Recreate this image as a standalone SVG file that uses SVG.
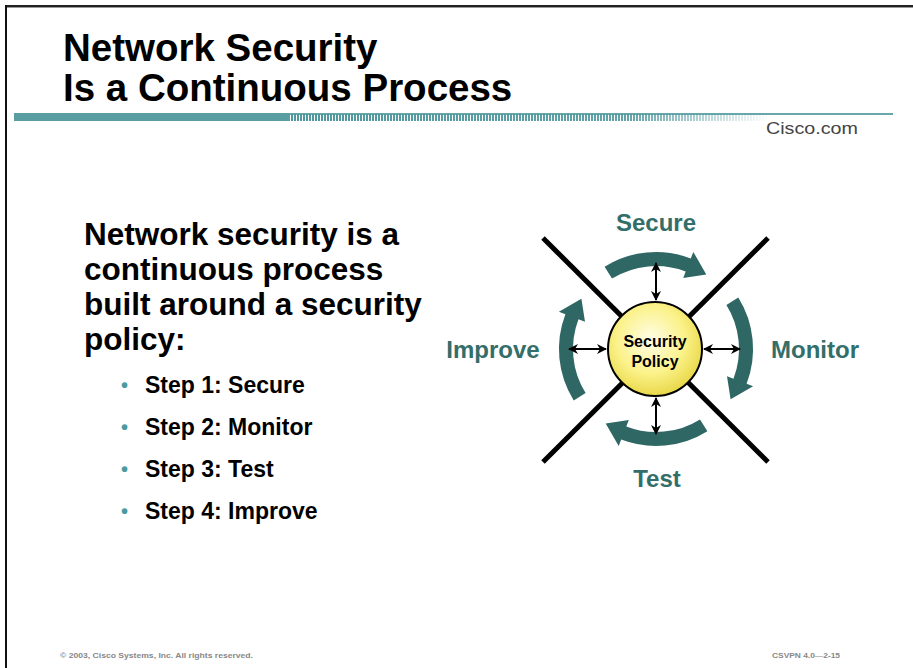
<svg xmlns="http://www.w3.org/2000/svg" width="913" height="668" viewBox="0 0 913 668">
<style>
.title{font-family:"Liberation Sans",Arial,sans-serif;font-weight:bold;font-size:38.5px;fill:#000}
.body{font-family:"Liberation Sans",Arial,sans-serif;font-weight:bold;font-size:31.5px;fill:#000}
.step{font-family:"Liberation Sans",Arial,sans-serif;font-weight:bold;font-size:23px;fill:#000}
.bullet{font-family:"Liberation Sans",Arial,sans-serif;font-weight:bold;font-size:20px;fill:#4a9aa0}
.lbl{font-family:"Liberation Sans",Arial,sans-serif;font-weight:bold;font-size:24px;fill:#336e6a;text-anchor:middle}
.core{font-family:"Liberation Sans",Arial,sans-serif;font-weight:bold;font-size:16px;fill:#000;text-anchor:middle}
.foot{font-family:"Liberation Sans",Arial,sans-serif;font-weight:bold;font-size:8px;fill:#888}
.x{stroke:#000;stroke-width:5;stroke-linecap:butt}
.dbl{stroke:#000;stroke-width:2;fill:none;marker-start:url(#ah);marker-end:url(#ah)}
.curve{fill:#2f6764}
</style>
<defs>
<marker id="ah" viewBox="0 0 10 10" refX="9" refY="5" markerWidth="5" markerHeight="5" orient="auto-start-reverse" markerUnits="strokeWidth">
<path d="M0 0 L10 5 L0 10 L3 5 Z" fill="#000"/>
</marker>
<pattern id="stripes" x="0" y="0" width="3" height="10" patternUnits="userSpaceOnUse">
<rect x="0" y="0" width="2" height="10" fill="#4f989d"/>
</pattern>
<linearGradient id="fade" x1="0" y1="0" x2="1" y2="0">
<stop offset="0" stop-color="#fff" stop-opacity="1"/>
<stop offset="0.7" stop-color="#fff" stop-opacity="0.9"/>
<stop offset="1" stop-color="#fff" stop-opacity="0"/>
</linearGradient>
<mask id="fm"><rect x="290" y="110" width="480" height="14" fill="url(#fade)"/></mask>
<radialGradient id="ball" cx="0.45" cy="0.4" r="0.6">
<stop offset="0" stop-color="#fffde8"/>
<stop offset="0.6" stop-color="#fbf28a"/>
<stop offset="1" stop-color="#e9d84a"/>
</radialGradient>
<path id="carrow" d="M -51.4 -82.3 A 97 97 0 0 1 34.8 -90.6 L 37.3 -97.1 L 50.3 -74.6 L 27.2 -71.0 L 29.7 -77.5 A 83 83 0 0 0 -44.0 -70.4 Z"/>
</defs>
<rect width="913" height="668" fill="#fff"/>
<g id="frame">
<line x1="5" y1="6" x2="913" y2="6" stroke="#222" stroke-width="2"/>
<line x1="5" y1="7.5" x2="913" y2="7.5" stroke="#999" stroke-width="1"/>
<line x1="6" y1="5" x2="6" y2="668" stroke="#111" stroke-width="2"/>
</g>
<g id="header">
<text class="title" x="63" y="61">Network Security</text>
<text class="title" x="63" y="101">Is a Continuous Process</text>
<rect x="14" y="113" width="276" height="8" fill="#5a9ea3"/>
<path d="M282 121 L290 113 L290 121 Z" fill="#5a9ea3"/>
<rect x="290" y="113" width="603" height="2" fill="#6aa7ab"/>
<rect x="290" y="114" width="480" height="7" fill="url(#stripes)" mask="url(#fm)"/>
<text x="766" y="134" textLength="92" lengthAdjust="spacingAndGlyphs" style="font-family:'Liberation Sans',Arial,sans-serif;font-size:17px;fill:#444">Cisco.com</text>
</g>
<g id="bodytext">
<text class="body" x="84" y="245">Network security is a</text>
<text class="body" x="84" y="280">continuous process</text>
<text class="body" x="84" y="315">built around a security</text>
<text class="body" x="84" y="350">policy:</text>
<text class="bullet" x="121" y="392">•</text><text class="step" x="145" y="393">Step 1: Secure</text>
<text class="bullet" x="121" y="434">•</text><text class="step" x="145" y="435">Step 2: Monitor</text>
<text class="bullet" x="121" y="476">•</text><text class="step" x="145" y="477">Step 3: Test</text>
<text class="bullet" x="121" y="518">•</text><text class="step" x="145" y="519">Step 4: Improve</text>
</g>
<g id="cross">
<line class="x" x1="543" y1="238" x2="768" y2="462"/>
<line class="x" x1="768" y1="238" x2="543" y2="462"/>
</g>
<g id="connectors">
<use href="#carrow" class="curve" transform="translate(656,349)"/>
<use href="#carrow" class="curve" transform="translate(656,349) rotate(90)"/>
<use href="#carrow" class="curve" transform="translate(656,349) rotate(180)"/>
<use href="#carrow" class="curve" transform="translate(656,349) rotate(270)"/>
<line class="dbl" x1="656" y1="263" x2="656" y2="300"/>
<line class="dbl" x1="656" y1="398" x2="656" y2="434"/>
<line class="dbl" x1="569" y1="349" x2="606" y2="349"/>
<line class="dbl" x1="704" y1="349" x2="740" y2="349"/>
</g>
<g id="policy">
<circle cx="655" cy="349" r="47" fill="url(#ball)" stroke="#000" stroke-width="2"/>
<text class="core" x="655" y="347">Security</text>
<text class="core" x="655" y="367">Policy</text>
</g>
<g id="secure"><text class="lbl" x="656" y="231">Secure</text></g>
<g id="monitor"><text class="lbl" x="815" y="358">Monitor</text></g>
<g id="test"><text class="lbl" x="657" y="487">Test</text></g>
<g id="improve"><text class="lbl" x="493" y="358">Improve</text></g>
<g id="footer">
<text class="foot" x="60" y="658" textLength="193" lengthAdjust="spacingAndGlyphs">© 2003, Cisco Systems, Inc. All rights reserved.</text>
<text class="foot" x="772" y="658" textLength="68" lengthAdjust="spacingAndGlyphs">CSVPN 4.0—2-15</text>
</g>
</svg>
